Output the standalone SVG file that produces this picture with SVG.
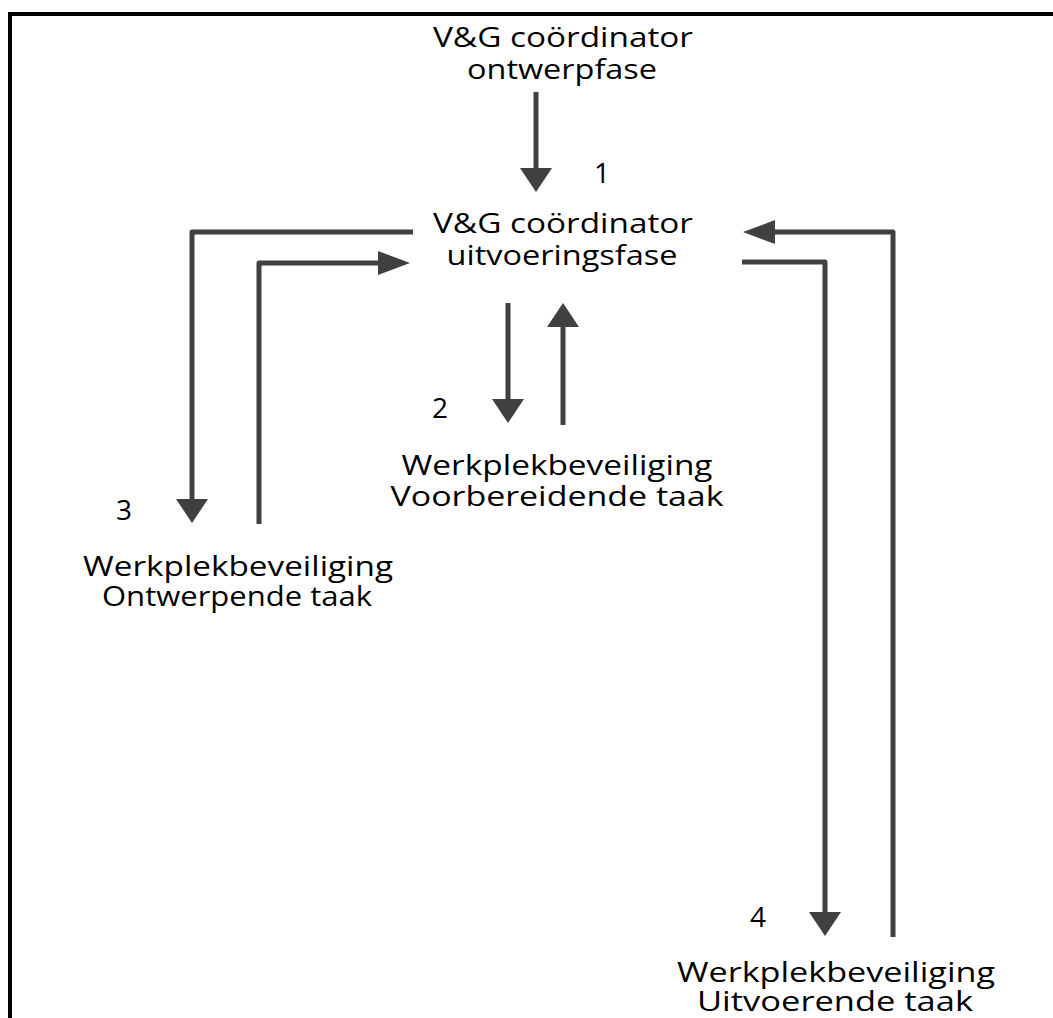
<svg xmlns="http://www.w3.org/2000/svg" width="1053" height="1018" viewBox="0 0 1053 1018">
  <style>
    .t { font-family: "Open Sans", "Liberation Sans", sans-serif; font-size: 28px; fill: #000; text-anchor: middle; }
    .c { fill: none; stroke: #404040; stroke-width: 5; stroke-linejoin: round; }
  </style>
  <defs>
    <marker id="av" markerUnits="userSpaceOnUse" markerWidth="24" markerHeight="32" refX="14" refY="16" orient="auto">
      <path d="M0,0 L24,16 L0,32 z" fill="#404040"/>
    </marker>
    <marker id="ah" markerUnits="userSpaceOnUse" markerWidth="32" markerHeight="24" refX="22" refY="12" orient="auto">
      <path d="M0,0 L32,12 L0,24 z" fill="#404040"/>
    </marker>
  </defs>
  <rect width="1053" height="1018" fill="#fff"/>
  <path d="M10,1018 V14 H1053" fill="none" stroke="#000" stroke-width="4"/>

  <g id="connectors">
    <path class="c" d="M536,92 V182" marker-end="url(#av)"/>
    <path class="c" d="M413,232 H192 V513" marker-end="url(#av)"/>
    <path class="c" d="M259,524 V263 H400" marker-end="url(#ah)"/>
    <path class="c" d="M508,303 V413" marker-end="url(#av)"/>
    <path class="c" d="M563,425 V313" marker-end="url(#av)"/>
    <path class="c" d="M742,262 H825 V926" marker-end="url(#av)"/>
    <path class="c" d="M893,937 V232 H753" marker-end="url(#ah)"/>
  </g>

  <g id="node-ontwerp">
    <text class="t" x="563" y="47" textLength="260" lengthAdjust="spacingAndGlyphs">V&amp;G coördinator</text>
    <text class="t" x="562" y="79" textLength="190" lengthAdjust="spacingAndGlyphs">ontwerpfase</text>
  </g>
  <g id="node-uitvoering">
    <text class="t" x="602" y="183">1</text>
    <text class="t" x="563" y="233" textLength="260" lengthAdjust="spacingAndGlyphs">V&amp;G coördinator</text>
    <text class="t" x="562" y="265" textLength="231" lengthAdjust="spacingAndGlyphs">uitvoeringsfase</text>
  </g>
  <g id="node-voorbereidend">
    <text class="t" x="440" y="418">2</text>
    <text class="t" x="557" y="475" textLength="311" lengthAdjust="spacingAndGlyphs">Werkplekbeveiliging</text>
    <text class="t" x="557" y="506" textLength="333" lengthAdjust="spacingAndGlyphs">Voorbereidende taak</text>
  </g>
  <g id="node-ontwerpend">
    <text class="t" x="124" y="520">3</text>
    <text class="t" x="238" y="576" textLength="310" lengthAdjust="spacingAndGlyphs">Werkplekbeveiliging</text>
    <text class="t" x="237" y="606" textLength="270" lengthAdjust="spacingAndGlyphs">Ontwerpende taak</text>
  </g>
  <g id="node-uitvoerend">
    <text class="t" x="758" y="927">4</text>
    <text class="t" x="836" y="982" textLength="318" lengthAdjust="spacingAndGlyphs">Werkplekbeveiliging</text>
    <text class="t" x="835" y="1011" textLength="276" lengthAdjust="spacingAndGlyphs">Uitvoerende taak</text>
  </g>
</svg>
